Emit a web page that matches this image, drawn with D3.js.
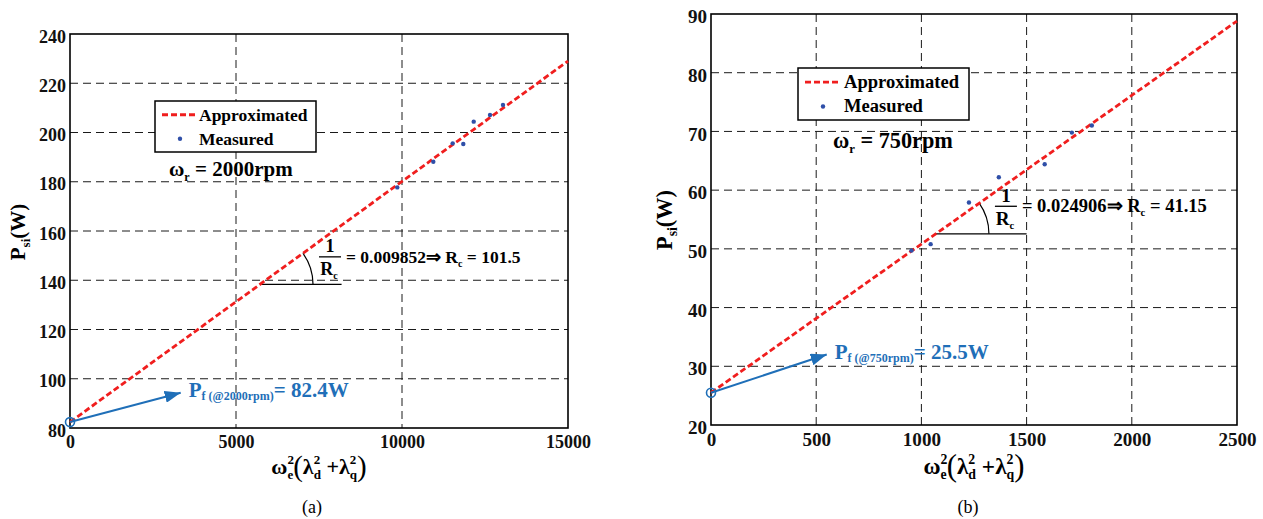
<!DOCTYPE html>
<html>
<head>
<meta charset="utf-8">
<script src="https://cdn.jsdelivr.net/npm/d3@7"></script>
<style>
  html, body { margin: 0; padding: 0; background: #fff; }
  svg { display: block; font-family: "Liberation Serif", "Times New Roman", serif; }
</style>
</head>
<body>
<svg id="chart" width="1263" height="519"></svg>
<script>
// ---------- data ----------
// panel (a): omega_r = 2000 rpm
const aMeasuredX = [9858, 10943, 11527, 11846, 12160, 12651, 13042];
const aMeasuredY = [177.7, 188.1, 195.6, 195.3, 204.4, 207.1, 211.2];
const aFitX = [0, 15000];
const aFitY = [82.4, 229.0];
const aXTicks = [0, 5000, 10000, 15000];
const aYTicks = [80, 100, 120, 140, 160, 180, 200, 220, 240];
const aIntercept = 82.4;

// panel (b): omega_r = 750 rpm
const bMeasuredX = [953, 1044, 1226, 1368, 1586, 1715, 1810];
const bMeasuredY = [49.7, 50.8, 57.9, 62.2, 64.4, 69.8, 71.0];
const bFitX = [0, 2500];
const bFitY = [25.5, 88.8];
const bXTicks = [0, 500, 1000, 1500, 2000, 2500];
const bYTicks = [20, 30, 40, 50, 60, 70, 80, 90];
const bIntercept = 25.5;

const BLUE_ANN = "#1f6fb8";
const DOT = "#2f4fa8";
const RED = "#f01e1e";
const FONT = "Liberation Serif";

const svg = d3.select("#chart");
const defs = svg.append("defs");
defs.append("marker")
  .attr("id", "arrowhead")
  .attr("viewBox", "0 0 16 12")
  .attr("refX", 16).attr("refY", 6)
  .attr("markerWidth", 16).attr("markerHeight", 12)
  .attr("markerUnits", "userSpaceOnUse")
  .attr("orient", "auto")
  .append("path").attr("d", "M0,0 L16,6 L0,12 Z").attr("fill", BLUE_ANN);

function panel(cfg) {
  const s = cfg.fs;
  const g = svg.append("g");
  const x = d3.scaleLinear().domain(cfg.xDomain).range([cfg.left, cfg.right]);
  const y = d3.scaleLinear().domain(cfg.yDomain).range([cfg.bottom, cfg.top]);

  // grid
  const grid = g.append("g").attr("stroke", "#1a1a1a").attr("stroke-width", 1)
    .attr("stroke-dasharray", "8,5");
  cfg.xTicks.slice(1, -1).forEach(t => {
    grid.append("line").attr("x1", x(t)).attr("x2", x(t))
      .attr("y1", cfg.top).attr("y2", cfg.bottom);
  });
  cfg.yTicks.slice(1, -1).forEach(t => {
    grid.append("line").attr("x1", cfg.left).attr("x2", cfg.right)
      .attr("y1", y(t)).attr("y2", y(t));
  });

  // axes with d3 (labels only, styled like MATLAB)
  const xAxis = g.append("g").attr("transform", `translate(0,${cfg.bottom})`)
    .call(d3.axisBottom(x).tickValues(cfg.xTicks).tickSize(0).tickPadding(7).tickFormat(d3.format("d")));
  const yAxis = g.append("g").attr("transform", `translate(${cfg.left},0)`)
    .call(d3.axisLeft(y).tickValues(cfg.yTicks).tickSize(0).tickPadding(4).tickFormat(d3.format("d")));
  [xAxis, yAxis].forEach(a => {
    a.select(".domain").remove();
    a.selectAll("text").attr("font-family", FONT).attr("font-weight", "bold")
      .attr("font-size", 18 * s).attr("fill", "#111");
  });
  yAxis.selectAll("text").attr("dy", "0.45em");
  xAxis.selectAll("text").attr("dy", "0.72em");

  // frame
  g.append("rect").attr("x", cfg.left).attr("y", cfg.top)
    .attr("width", cfg.right - cfg.left).attr("height", cfg.bottom - cfg.top)
    .attr("fill", "none").attr("stroke", "#000").attr("stroke-width", 1.6);

  // slope annotation
  const cornerX = x(cfg.slopeCornerX);
  const cornerY = y(cfg.fitY[0] + (cfg.fitY[1] - cfg.fitY[0]) * (cfg.slopeCornerX - cfg.fitX[0]) / (cfg.fitX[1] - cfg.fitX[0]));
  const dxp = x(cfg.fitX[1]) - x(cfg.fitX[0]);
  const dyp = y(cfg.fitY[0]) - y(cfg.fitY[1]);
  const theta = Math.atan2(dyp, dxp);
  g.append("line").attr("x1", cornerX).attr("y1", cornerY)
    .attr("x2", x(cfg.slopeEndX)).attr("y2", cornerY)
    .attr("stroke", "#000").attr("stroke-width", 1.2);
  const r = 53;
  g.append("path")
    .attr("d", `M${cornerX + r * Math.cos(theta)},${cornerY - r * Math.sin(theta)} A${r},${r} 0 0 1 ${cornerX + r},${cornerY}`)
    .attr("fill", "none").attr("stroke", "#000").attr("stroke-width", 1.2);

  // fitted line
  g.append("path")
    .datum(d3.zip(cfg.fitX, cfg.fitY))
    .attr("d", d3.line().x(d => x(d[0])).y(d => y(d[1])))
    .attr("fill", "none").attr("stroke", RED).attr("stroke-width", 2.8)
    .attr("stroke-dasharray", "6,3");

  // measured points
  g.selectAll("circle.pt").data(d3.zip(cfg.mX, cfg.mY)).join("circle")
    .attr("class", "pt").attr("cx", d => x(d[0])).attr("cy", d => y(d[1]))
    .attr("r", 2.2).attr("fill", DOT);

  // fraction text
  const fx = cornerX + 70;
  const ft = g.append("g").attr("font-family", FONT).attr("font-weight", "bold").attr("fill", "#000");
  ft.append("text").attr("x", fx).attr("y", cornerY - 32).attr("text-anchor", "middle")
    .attr("font-size", 18 * s).text("1");
  g.append("line").attr("x1", fx - 11).attr("x2", fx + 11)
    .attr("y1", cornerY - 27.5).attr("y2", cornerY - 27.5).attr("stroke", "#000").attr("stroke-width", 1.3);
  const rc = ft.append("text").attr("x", fx - 1).attr("y", cornerY - 9).attr("text-anchor", "middle").attr("font-size", 18 * s);
  rc.append("tspan").text("R");
  rc.append("tspan").attr("font-size", 10 * s).attr("dy", 4).text("c");
  const eq = ft.append("text").attr("x", fx + 16).attr("y", cornerY - 21.5).attr("font-size", 17.5 * s);
  eq.append("tspan").text("= " + cfg.slopeText + "\u21D2 R");
  eq.append("tspan").attr("font-size", 10 * s).attr("dy", 4).text("c");
  eq.append("tspan").attr("dy", -4).text(" = " + cfg.rcText);

  // intercept annotation
  const cx0 = x(0), cy0 = y(cfg.intercept);
  g.append("line").attr("x1", cx0).attr("y1", cy0)
    .attr("x2", x(cfg.arrowTip[0])).attr("y2", y(cfg.arrowTip[1]))
    .attr("stroke", BLUE_ANN).attr("stroke-width", 2).attr("marker-end", "url(#arrowhead)");
  g.append("circle").attr("cx", cx0).attr("cy", cy0).attr("r", 4.5)
    .attr("fill", "none").attr("stroke", BLUE_ANN).attr("stroke-width", 1.6);
  const pf = g.append("text").attr("x", x(cfg.arrowTip[0]) + 8).attr("y", y(cfg.arrowTip[1]) + 4)
    .attr("font-family", FONT).attr("font-weight", "bold").attr("fill", BLUE_ANN).attr("font-size", 21);
  pf.append("tspan").text("P");
  pf.append("tspan").attr("font-size", 12).attr("dy", 3).text("f (@" + cfg.rpm + "rpm)");
  pf.append("tspan").attr("dy", -3).text("= " + cfg.intercept + "W");

  // legend
  const L = cfg.legend;
  const lg = g.append("g");
  lg.append("rect").attr("x", L.x).attr("y", L.y).attr("width", L.w).attr("height", L.h)
    .attr("fill", "#fff").attr("stroke", "#000").attr("stroke-width", 1.5);
  lg.append("line").attr("x1", L.x + 7).attr("x2", L.x + 41)
    .attr("y1", L.y + L.h * 0.27).attr("y2", L.y + L.h * 0.27)
    .attr("stroke", RED).attr("stroke-width", 2.8).attr("stroke-dasharray", "6,3");
  lg.append("circle").attr("cx", L.x + 25).attr("cy", L.y + L.h * 0.74).attr("r", 2.2).attr("fill", DOT);
  lg.append("text").attr("x", L.x + L.tx).attr("y", L.y + L.h * 0.27 + 6)
    .attr("font-family", FONT).attr("font-weight", "bold").attr("font-size", 17.5 * s).text("Approximated");
  lg.append("text").attr("x", L.x + L.tx).attr("y", L.y + L.h * 0.74 + 6)
    .attr("font-family", FONT).attr("font-weight", "bold").attr("font-size", 17.5 * s).text("Measured");

  // omega_r label
  const wr = g.append("text").attr("x", L.wx).attr("y", L.wy)
    .attr("font-family", FONT).attr("font-weight", "bold").attr("font-size", 21 * s);
  wr.append("tspan").text("\u03C9");
  wr.append("tspan").attr("font-size", 12 * s).attr("dy", 5).text("r");
  wr.append("tspan").attr("dy", -5).text(" = " + cfg.rpm + "rpm");

  // y label
  const yl = g.append("text")
    .attr("transform", `translate(${cfg.yLabelX},${cfg.yLabelY}) rotate(-90)`)
    .attr("text-anchor", "middle")
    .attr("font-family", FONT).attr("font-weight", "bold").attr("font-size", 21 * s);
  yl.append("tspan").text("P");
  yl.append("tspan").attr("font-size", 13 * s).attr("dy", 5).text("si");
  yl.append("tspan").attr("dy", -5).text("(W)");

  // x label
  const xmid = (cfg.left + cfg.right) / 2;
  const xl = g.append("text").attr("x", xmid).attr("y", 474).attr("text-anchor", "middle")
    .attr("font-family", FONT).attr("font-weight", "bold").attr("font-size", 22 * s);
  xl.append("tspan").text("\u03C9");
  xl.append("tspan").attr("font-size", 13 * s).attr("dy", -10).text("2");
  xl.append("tspan").attr("font-size", 13 * s).attr("dx", -6.5 * s).attr("dy", 15).text("e");
  xl.append("tspan").attr("font-size", 29 * s).attr("font-weight", "normal").attr("dy", -3).text("(");
  xl.append("tspan").attr("dy", -2).text("\u03BB");
  xl.append("tspan").attr("font-size", 13 * s).attr("dy", -10).text("2");
  xl.append("tspan").attr("font-size", 13 * s).attr("dx", -6.5 * s).attr("dy", 15).text("d");
  xl.append("tspan").attr("dy", -5).text(" +");
  xl.append("tspan").text("\u03BB");
  xl.append("tspan").attr("font-size", 13 * s).attr("dy", -10).text("2");
  xl.append("tspan").attr("font-size", 13 * s).attr("dx", -6.5 * s).attr("dy", 15).text("q");
  xl.append("tspan").attr("font-size", 29 * s).attr("font-weight", "normal").attr("dy", -3).text(")");

  // caption
  g.append("text").attr("x", cfg.capX).attr("y", 513).attr("text-anchor", "middle")
    .attr("font-family", FONT).attr("font-size", 18).text(cfg.caption);
}

panel({
  fs: 1.0,
  left: 70, right: 568, top: 34, bottom: 428,
  xDomain: [0, 15000], yDomain: [80, 240],
  xTicks: aXTicks, yTicks: aYTicks,
  mX: aMeasuredX, mY: aMeasuredY, fitX: aFitX, fitY: aFitY,
  intercept: aIntercept, rpm: 2000,
  slopeCornerX: 5723, slopeEndX: 8180, slopeText: "0.009852", rcText: "101.5",
  arrowTip: [3334, 94.3],
  legend: { x: 155, y: 101, w: 161, h: 51, tx: 44, wx: 169, wy: 176 },
  yLabelX: 25, yLabelY: 232,
  capX: 312, caption: "(a)"
});

panel({
  fs: 1.06,
  left: 711, right: 1237, top: 14, bottom: 425,
  xDomain: [0, 2500], yDomain: [20, 90],
  xTicks: bXTicks, yTicks: bYTicks,
  mX: bMeasuredX, mY: bMeasuredY, fitX: bFitX, fitY: bFitY,
  intercept: bIntercept, rpm: 750,
  slopeCornerX: 1069, slopeEndX: 1500, slopeText: "0.024906", rcText: "41.15",
  arrowTip: [550, 32.0],
  legend: { x: 798, y: 68, w: 171, h: 52, tx: 46, wx: 833, wy: 148 },
  yLabelX: 672, yLabelY: 220,
  capX: 968, caption: "(b)"
});
</script>
</body>
</html>
